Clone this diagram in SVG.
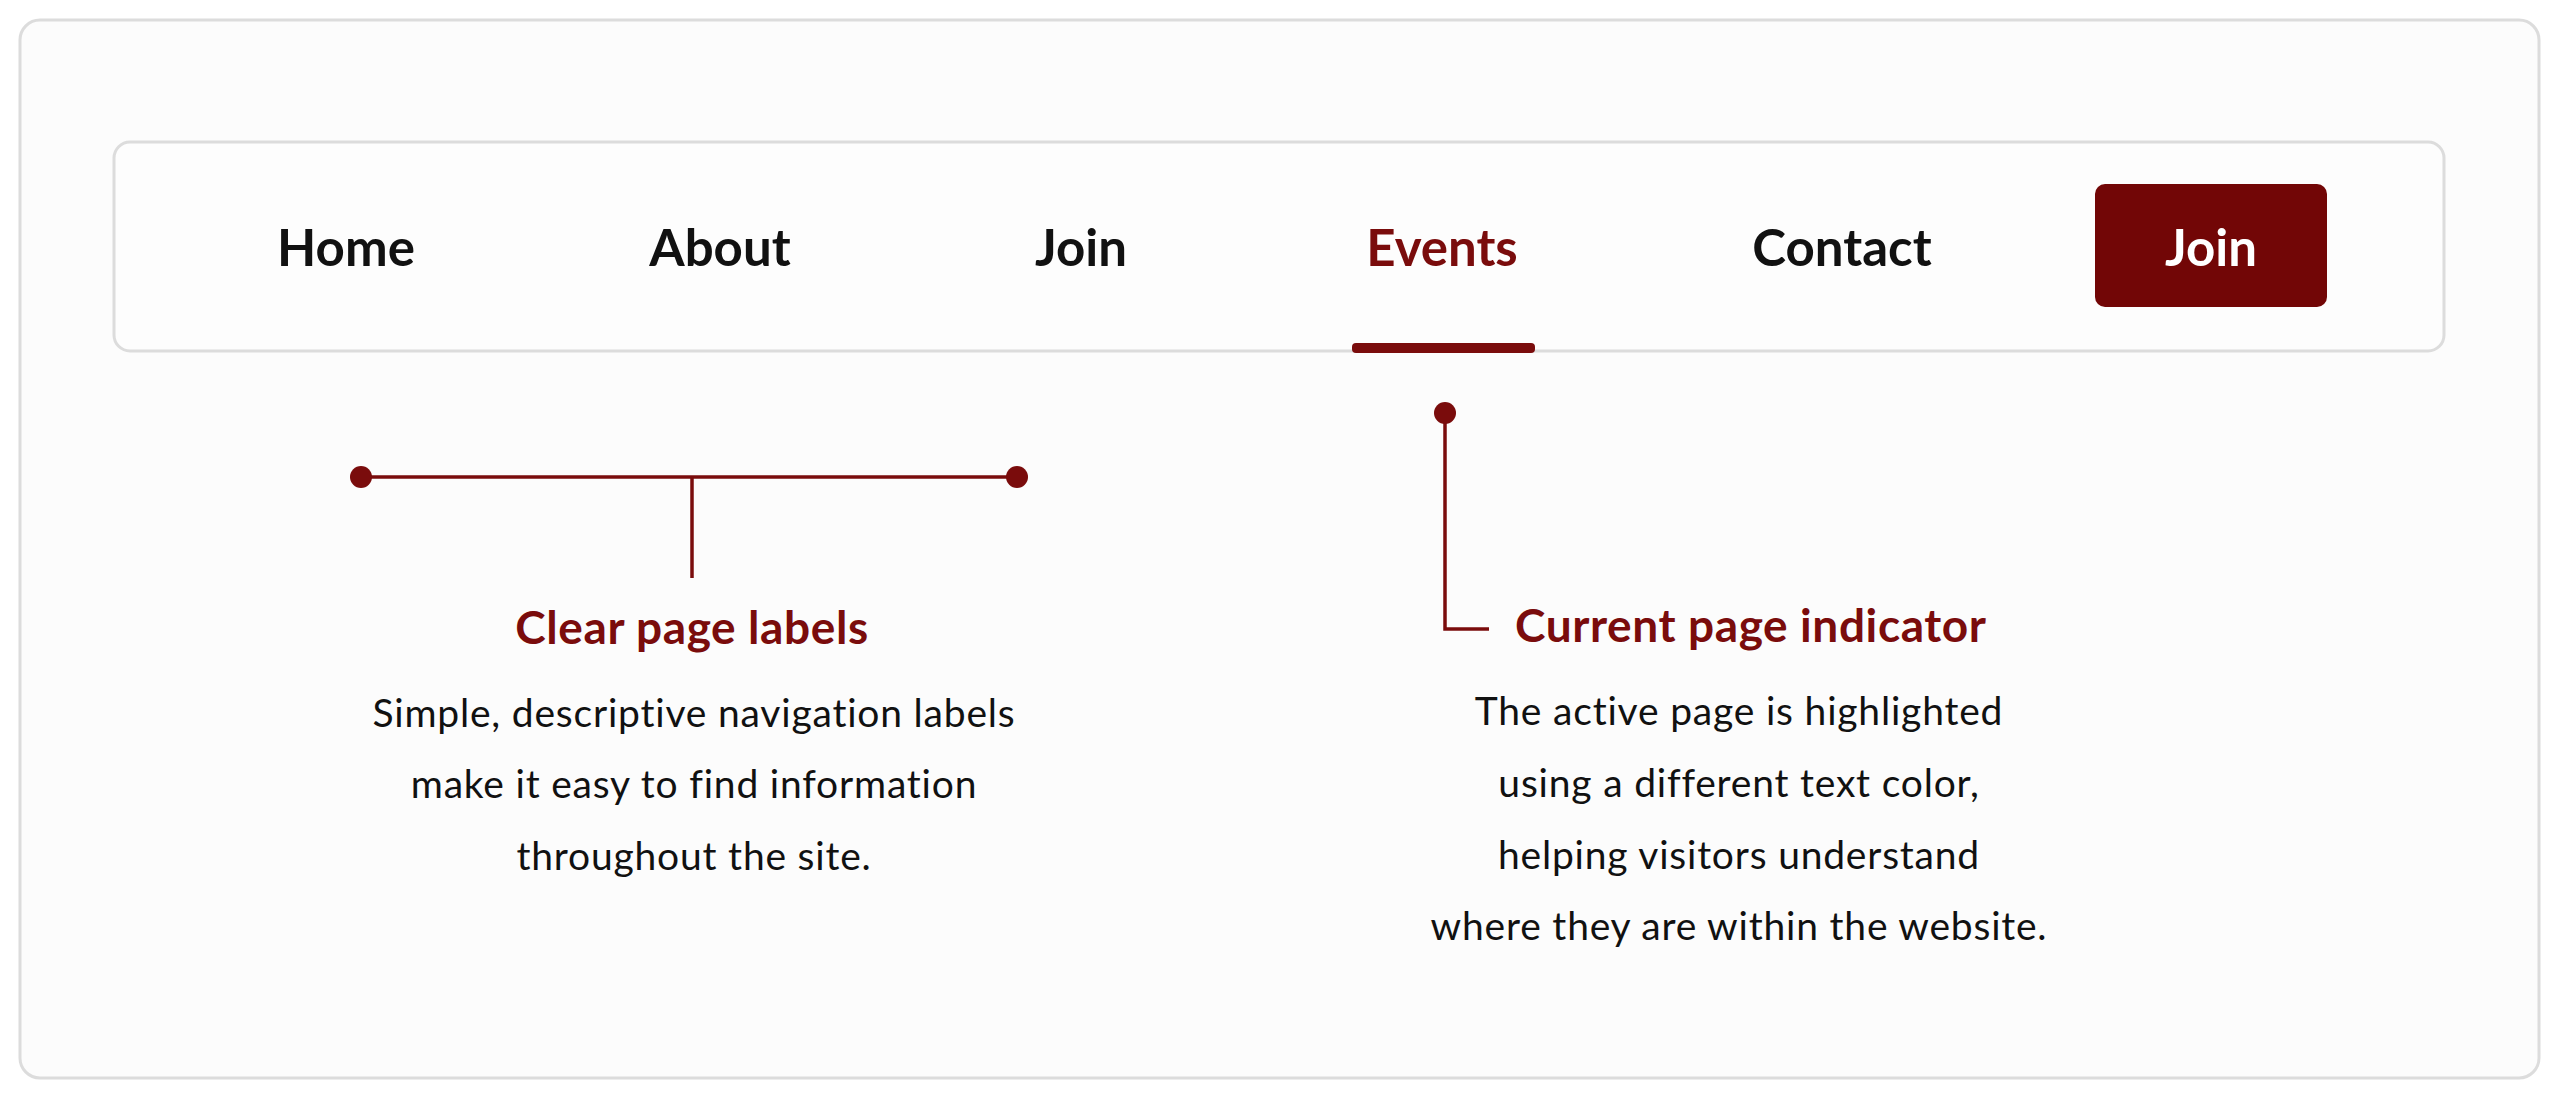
<svg xmlns="http://www.w3.org/2000/svg" width="2560" height="1096" viewBox="0 0 2560 1096">
<style>
.nav{font-family:Lato,"Liberation Sans",sans-serif;font-weight:700;font-size:51px;fill:#111;text-anchor:middle}
.act{fill:#7a0c0c}
.ttl{font-family:Lato,"Liberation Sans",sans-serif;font-weight:700;font-size:46px;letter-spacing:0.6px;fill:#7a0c0c}
.body{font-family:Lato,"Liberation Sans",sans-serif;font-size:39px;letter-spacing:0.8px;fill:#111;text-anchor:middle}
.ln{stroke:#7a0c0c;stroke-width:3.5;fill:none}
</style>
<rect width="2560" height="1096" fill="#ffffff"/>
<rect x="20" y="20" width="2519" height="1058" rx="20" fill="#fcfcfc" stroke="#dcdcdc" stroke-width="3"/>
<g id="navbar">
<rect x="114" y="142" width="2330" height="209" rx="16" fill="#fdfdfd" stroke="#dcdcdc" stroke-width="3"/>
</g>
<g id="nav-home"><text class="nav" x="346" y="266">Home</text></g>
<g id="nav-about"><text class="nav" x="720" y="266">About</text></g>
<g id="nav-join"><text class="nav" x="1081" y="266">Join</text></g>
<g id="nav-events"><text class="nav act" x="1442" y="266">Events</text>
<rect x="1352" y="343" width="183" height="10" rx="4" fill="#7a0c0c"/></g>
<g id="nav-contact"><text class="nav" x="1842" y="266">Contact</text></g>
<g id="nav-join-btn"><rect x="2095" y="184" width="232" height="123" rx="10" fill="#720606"/>
<text class="nav" x="2211" y="266" style="fill:#fff">Join</text></g>
<g id="connectors">
<line class="ln" x1="361" y1="477" x2="1017" y2="477"/>
<line class="ln" x1="692" y1="477" x2="692" y2="578"/>
<circle cx="361" cy="477" r="11" fill="#7a0c0c"/>
<circle cx="1017" cy="477" r="11" fill="#7a0c0c"/>
<polyline class="ln" points="1445,413 1445,629 1489,629"/>
<circle cx="1445" cy="413" r="11" fill="#7a0c0c"/>
</g>
<g id="note-labels">
<text class="ttl" x="692" y="644" text-anchor="middle">Clear page labels</text>
<text class="body" x="694" y="727">Simple, descriptive navigation labels</text>
<text class="body" x="694" y="798">make it easy to find information</text>
<text class="body" x="694" y="870">throughout the site.</text>
</g>
<g id="note-indicator">
<text class="ttl" x="1515" y="642">Current page indicator</text>
<text class="body" x="1739" y="725">The active page is highlighted</text>
<text class="body" x="1739" y="797">using a different text color,</text>
<text class="body" x="1739" y="869">helping visitors understand</text>
<text class="body" x="1739" y="940">where they are within the website.</text>
</g>
</svg>
